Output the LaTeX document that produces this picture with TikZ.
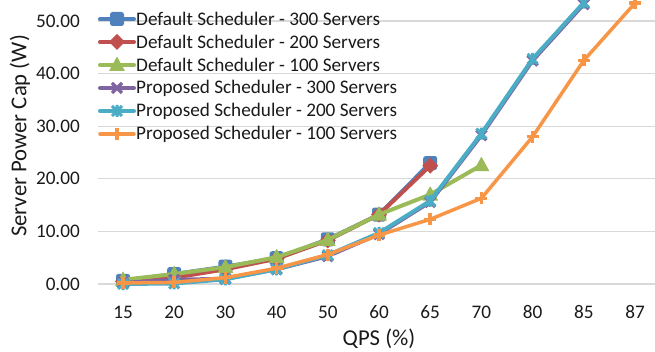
\documentclass[tikz,border=0pt]{standalone}
\usepackage{fontspec}
\setmainfont{Carlito}
\definecolor{cBlue}{HTML}{4F81BD}
\definecolor{cRed}{HTML}{C0504D}
\definecolor{cGreen}{HTML}{9BBB59}
\definecolor{cPurple}{HTML}{8064A2}
\definecolor{cCyan}{HTML}{4BACC6}
\definecolor{cOrange}{HTML}{F79646}
\definecolor{cGrid}{HTML}{D9D9D9}
\definecolor{cText}{HTML}{1A1A1A}

\tikzset{
  ticklab/.style={inner sep=0pt, text=cText, font=\fontsize{19.2}{22}\selectfont},
  axtitle/.style={inner sep=0pt, text=cText, font=\fontsize{22.7}{26}\selectfont},
  legtext/.style={inner sep=0pt, anchor=west, text=cText, font=\fontsize{19.2}{22}\selectfont},
  gridline/.style={cGrid, line width=1.2pt},
  serA/.style={cBlue, line width=4pt, line cap=round},
  serB/.style={cRed, line width=4pt, line cap=round},
  serC/.style={cGreen, line width=4pt, line cap=round},
  serD/.style={cPurple, line width=4pt, line cap=round},
  serE/.style={cCyan, line width=4pt, line cap=round},
  serF/.style={cOrange, line width=3.5pt, line cap=round},
  pics/sqm/.style={code={\fill[cBlue, rounded corners=2.5pt] (-7pt,-7pt) rectangle (7pt,7pt);}},
  pics/dmm/.style={code={\fill[cRed] (0pt,8pt) -- (8pt,0pt) -- (0pt,-8pt) -- (-8pt,0pt) -- cycle;}},
  pics/trm/.style={code={\fill[cGreen, rounded corners=0.5pt] (0pt,8.5pt) -- (8pt,-6pt) -- (-8pt,-6pt) -- cycle;}},
  pics/xm/.style={code={\draw[cPurple, line width=3.5pt] (-5pt,-5pt) -- (5pt,5pt) (-5pt,5pt) -- (5pt,-5pt);}},
  pics/stm/.style={code={\draw[cCyan, line width=3pt] (-5pt,-5pt) -- (5pt,5pt) (-5pt,5pt) -- (5pt,-5pt) (0pt,-6pt) -- (0pt,6pt);}},
  pics/plm/.style={code={\draw[cOrange, line width=3.5pt] (-6pt,0pt) -- (6pt,0pt) (0pt,-6pt) -- (0pt,6pt);}},
}

% one data series: line segments first, then its markers
\newcommand\plotseries[3]{%
  \foreach \i/\v [count=\k, remember=\i as \ip (initially 0), remember=\v as \vp (initially 0)] in {#3} {%
    \ifnum\k>1 \draw[#1] (\ip,\vp) -- (\i,\v); \fi
  }%
  \foreach \i/\v in {#3} \pic at (\i,\v) {#2};%
}

\begin{document}
\begin{tikzpicture}[x=1pt, y=-1pt]
\useasboundingbox (0,0) rectangle (655,352);
\begin{scope}
\clip (0,0) rectangle (655,352);

% horizontal gridlines and value labels
\foreach \lab [count=\k from 0] in {0.00,10.00,20.00,30.00,40.00,50.00} {
  \draw[gridline] (98,284-52.6*\k) -- (655,284-52.6*\k);
  \node[ticklab, anchor=east] (yl\k) at (80,284-52.6*\k) {\lab};
}

% category labels
\foreach \lab [count=\c from 0] in {15,20,30,40,50,60,65,70,80,85,87}
  \node[ticklab] (xl\c) at (123+51.2*\c,312) {\lab};

\node[axtitle] (xtitle) at (379,339) {QPS (\%)};
\node[axtitle, rotate=90] (ytitle) at (20,136) {Server Power Cap (W)};

% data area: x = category index, y = watts
\begin{scope}[shift={(123pt,-284pt)}, x=51.2pt, y=5.26pt]
  \plotseries{serA}{sqm}{0/0.6,1/1.9,2/3.3,3/4.9,4/8.5,5/13.2,6/23.0}
  \plotseries{serB}{dmm}{0/0.5,1/1.2,2/2.8,3/4.8,4/8.3,5/13.2,6/22.5}
  \plotseries{serC}{trm}{0/0.8,1/1.9,2/3.2,3/5.1,4/8.4,5/13.2,6/17.0,7/22.6}
  \plotseries{serD}{xm}{0/0.2,1/0.8,2/1.0,3/2.8,4/5.3,5/9.5,6/15.6,7/28.3,8/42.5,9/53.2}
  \plotseries{serE}{stm}{0/0.0,1/0.1,2/0.9,3/2.8,4/5.5,5/9.7,6/15.8,7/28.6,8/42.8,9/53.5}
  \plotseries{serF}{plm}{0/0.2,1/0.3,2/1.2,3/3.0,4/5.6,5/9.3,6/12.3,7/16.3,8/28.0,9/42.5,10/53.4}
\end{scope}

% legend
\foreach \st/\mk/\txt [count=\k from 0] in {
  serA/sqm/Default Scheduler - 300 Servers,
  serB/dmm/Default Scheduler - 200 Servers,
  serC/trm/Default Scheduler - 100 Servers,
  serD/xm/Proposed Scheduler - 300 Servers,
  serE/stm/Proposed Scheduler - 200 Servers,
  serF/plm/Proposed Scheduler - 100 Servers} {
  \coordinate (ls\k) at (100,19+23*\k);
  \coordinate (le\k) at (134,19+23*\k);
  \draw[\st] (ls\k) -- (le\k);
  \pic at (117,19+23*\k) {\mk};
  \node[legtext] (lt\k) at (136,19+23*\k) {\txt};
}
\end{scope}
\end{tikzpicture}
\end{document}
